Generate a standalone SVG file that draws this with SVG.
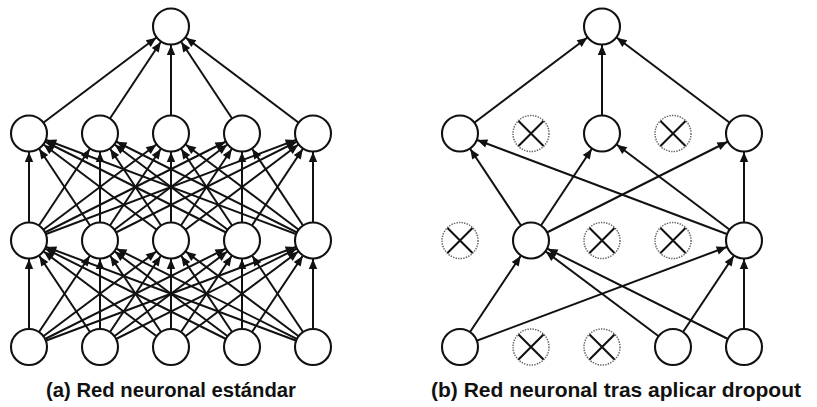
<svg xmlns="http://www.w3.org/2000/svg" width="817" height="407" viewBox="0 0 817 407">
  <style>
    .edge { stroke: #111; stroke-width: 2; fill: none; marker-end: url(#head); }
    .unit { fill: #fff; stroke: #111; stroke-width: 2.1; }
    .dropped circle { fill: #fff; stroke: #666; stroke-width: 1.5; stroke-dasharray: 1.4 1.2; }
    .dropped path { stroke: #111; stroke-width: 2.1; fill: none; }
    .caption { font-family: "Liberation Sans", Arial, sans-serif; font-weight: bold; font-size: 21px; fill: #111; }
  </style>
  <defs>
    <!-- arrow tip sits one radius (18) short of the target centre, on the circle rim -->
    <marker id="head" markerUnits="userSpaceOnUse" refX="0" refY="0" markerWidth="40" markerHeight="40" orient="auto" style="overflow:visible">
      <path d="M -28.5 -4.2 L -18.5 0 L -28.5 4.2 Z" fill="#111"/>
    </marker>
  </defs>

  <!-- (a) standard network: connectors -->
  <g id="connectors-a">
    <line class="edge" x1="29" y1="133.5" x2="171" y2="26.5"/>
    <line class="edge" x1="100" y1="133.5" x2="171" y2="26.5"/>
    <line class="edge" x1="171" y1="133.5" x2="171" y2="26.5"/>
    <line class="edge" x1="242" y1="133.5" x2="171" y2="26.5"/>
    <line class="edge" x1="313" y1="133.5" x2="171" y2="26.5"/>

    <line class="edge" x1="29" y1="240.5" x2="29" y2="133.5"/>
    <line class="edge" x1="100" y1="240.5" x2="29" y2="133.5"/>
    <line class="edge" x1="171" y1="240.5" x2="29" y2="133.5"/>
    <line class="edge" x1="242" y1="240.5" x2="29" y2="133.5"/>
    <line class="edge" x1="313" y1="240.5" x2="29" y2="133.5"/>
    <line class="edge" x1="29" y1="240.5" x2="100" y2="133.5"/>
    <line class="edge" x1="100" y1="240.5" x2="100" y2="133.5"/>
    <line class="edge" x1="171" y1="240.5" x2="100" y2="133.5"/>
    <line class="edge" x1="242" y1="240.5" x2="100" y2="133.5"/>
    <line class="edge" x1="313" y1="240.5" x2="100" y2="133.5"/>
    <line class="edge" x1="29" y1="240.5" x2="171" y2="133.5"/>
    <line class="edge" x1="100" y1="240.5" x2="171" y2="133.5"/>
    <line class="edge" x1="171" y1="240.5" x2="171" y2="133.5"/>
    <line class="edge" x1="242" y1="240.5" x2="171" y2="133.5"/>
    <line class="edge" x1="313" y1="240.5" x2="171" y2="133.5"/>
    <line class="edge" x1="29" y1="240.5" x2="242" y2="133.5"/>
    <line class="edge" x1="100" y1="240.5" x2="242" y2="133.5"/>
    <line class="edge" x1="171" y1="240.5" x2="242" y2="133.5"/>
    <line class="edge" x1="242" y1="240.5" x2="242" y2="133.5"/>
    <line class="edge" x1="313" y1="240.5" x2="242" y2="133.5"/>
    <line class="edge" x1="29" y1="240.5" x2="313" y2="133.5"/>
    <line class="edge" x1="100" y1="240.5" x2="313" y2="133.5"/>
    <line class="edge" x1="171" y1="240.5" x2="313" y2="133.5"/>
    <line class="edge" x1="242" y1="240.5" x2="313" y2="133.5"/>
    <line class="edge" x1="313" y1="240.5" x2="313" y2="133.5"/>

    <line class="edge" x1="29" y1="347" x2="29" y2="240.5"/>
    <line class="edge" x1="100" y1="347" x2="29" y2="240.5"/>
    <line class="edge" x1="171" y1="347" x2="29" y2="240.5"/>
    <line class="edge" x1="242" y1="347" x2="29" y2="240.5"/>
    <line class="edge" x1="313" y1="347" x2="29" y2="240.5"/>
    <line class="edge" x1="29" y1="347" x2="100" y2="240.5"/>
    <line class="edge" x1="100" y1="347" x2="100" y2="240.5"/>
    <line class="edge" x1="171" y1="347" x2="100" y2="240.5"/>
    <line class="edge" x1="242" y1="347" x2="100" y2="240.5"/>
    <line class="edge" x1="313" y1="347" x2="100" y2="240.5"/>
    <line class="edge" x1="29" y1="347" x2="171" y2="240.5"/>
    <line class="edge" x1="100" y1="347" x2="171" y2="240.5"/>
    <line class="edge" x1="171" y1="347" x2="171" y2="240.5"/>
    <line class="edge" x1="242" y1="347" x2="171" y2="240.5"/>
    <line class="edge" x1="313" y1="347" x2="171" y2="240.5"/>
    <line class="edge" x1="29" y1="347" x2="242" y2="240.5"/>
    <line class="edge" x1="100" y1="347" x2="242" y2="240.5"/>
    <line class="edge" x1="171" y1="347" x2="242" y2="240.5"/>
    <line class="edge" x1="242" y1="347" x2="242" y2="240.5"/>
    <line class="edge" x1="313" y1="347" x2="242" y2="240.5"/>
    <line class="edge" x1="29" y1="347" x2="313" y2="240.5"/>
    <line class="edge" x1="100" y1="347" x2="313" y2="240.5"/>
    <line class="edge" x1="171" y1="347" x2="313" y2="240.5"/>
    <line class="edge" x1="242" y1="347" x2="313" y2="240.5"/>
    <line class="edge" x1="313" y1="347" x2="313" y2="240.5"/>
  </g>

  <!-- (b) thinned network: connectors between surviving units -->
  <g id="connectors-b">
    <line class="edge" x1="460" y1="133.5" x2="602" y2="26.5"/>
    <line class="edge" x1="602" y1="133.5" x2="602" y2="26.5"/>
    <line class="edge" x1="744" y1="133.5" x2="602" y2="26.5"/>

    <line class="edge" x1="531" y1="240.5" x2="460" y2="133.5"/>
    <line class="edge" x1="744" y1="240.5" x2="460" y2="133.5"/>
    <line class="edge" x1="531" y1="240.5" x2="602" y2="133.5"/>
    <line class="edge" x1="744" y1="240.5" x2="602" y2="133.5"/>
    <line class="edge" x1="531" y1="240.5" x2="744" y2="133.5"/>
    <line class="edge" x1="744" y1="240.5" x2="744" y2="133.5"/>

    <line class="edge" x1="460" y1="347" x2="531" y2="240.5"/>
    <line class="edge" x1="673" y1="347" x2="531" y2="240.5"/>
    <line class="edge" x1="744" y1="347" x2="531" y2="240.5"/>
    <line class="edge" x1="460" y1="347" x2="744" y2="240.5"/>
    <line class="edge" x1="673" y1="347" x2="744" y2="240.5"/>
    <line class="edge" x1="744" y1="347" x2="744" y2="240.5"/>
  </g>

  <!-- (a) units -->
  <g id="a-out"><circle class="unit" cx="171" cy="26.5" r="18"/></g>
  <g id="a-h2-1"><circle class="unit" cx="29" cy="133.5" r="18"/></g>
  <g id="a-h2-2"><circle class="unit" cx="100" cy="133.5" r="18"/></g>
  <g id="a-h2-3"><circle class="unit" cx="171" cy="133.5" r="18"/></g>
  <g id="a-h2-4"><circle class="unit" cx="242" cy="133.5" r="18"/></g>
  <g id="a-h2-5"><circle class="unit" cx="313" cy="133.5" r="18"/></g>
  <g id="a-h1-1"><circle class="unit" cx="29" cy="240.5" r="18"/></g>
  <g id="a-h1-2"><circle class="unit" cx="100" cy="240.5" r="18"/></g>
  <g id="a-h1-3"><circle class="unit" cx="171" cy="240.5" r="18"/></g>
  <g id="a-h1-4"><circle class="unit" cx="242" cy="240.5" r="18"/></g>
  <g id="a-h1-5"><circle class="unit" cx="313" cy="240.5" r="18"/></g>
  <g id="a-in-1"><circle class="unit" cx="29" cy="347" r="18"/></g>
  <g id="a-in-2"><circle class="unit" cx="100" cy="347" r="18"/></g>
  <g id="a-in-3"><circle class="unit" cx="171" cy="347" r="18"/></g>
  <g id="a-in-4"><circle class="unit" cx="242" cy="347" r="18"/></g>
  <g id="a-in-5"><circle class="unit" cx="313" cy="347" r="18"/></g>

  <!-- (b) units; dropped ones are dotted and crossed -->
  <g id="b-out"><circle class="unit" cx="602" cy="26.5" r="18"/></g>
  <g id="b-h2-1"><circle class="unit" cx="460" cy="133.5" r="18"/></g>
  <g id="b-h2-2" class="dropped"><circle cx="531" cy="133.5" r="18"/><path d="M 518.5 121 L 543.5 146 M 543.5 121 L 518.5 146"/></g>
  <g id="b-h2-3"><circle class="unit" cx="602" cy="133.5" r="18"/></g>
  <g id="b-h2-4" class="dropped"><circle cx="673" cy="133.5" r="18"/><path d="M 660.5 121 L 685.5 146 M 685.5 121 L 660.5 146"/></g>
  <g id="b-h2-5"><circle class="unit" cx="744" cy="133.5" r="18"/></g>
  <g id="b-h1-1" class="dropped"><circle cx="460" cy="240.5" r="18"/><path d="M 447.5 228 L 472.5 253 M 472.5 228 L 447.5 253"/></g>
  <g id="b-h1-2"><circle class="unit" cx="531" cy="240.5" r="18"/></g>
  <g id="b-h1-3" class="dropped"><circle cx="602" cy="240.5" r="18"/><path d="M 589.5 228 L 614.5 253 M 614.5 228 L 589.5 253"/></g>
  <g id="b-h1-4" class="dropped"><circle cx="673" cy="240.5" r="18"/><path d="M 660.5 228 L 685.5 253 M 685.5 228 L 660.5 253"/></g>
  <g id="b-h1-5"><circle class="unit" cx="744" cy="240.5" r="18"/></g>
  <g id="b-in-1"><circle class="unit" cx="460" cy="347" r="18"/></g>
  <g id="b-in-2" class="dropped"><circle cx="531" cy="347" r="18"/><path d="M 518.5 334.5 L 543.5 359.5 M 543.5 334.5 L 518.5 359.5"/></g>
  <g id="b-in-3" class="dropped"><circle cx="602" cy="347" r="18"/><path d="M 589.5 334.5 L 614.5 359.5 M 614.5 334.5 L 589.5 359.5"/></g>
  <g id="b-in-4"><circle class="unit" cx="673" cy="347" r="18"/></g>
  <g id="b-in-5"><circle class="unit" cx="744" cy="347" r="18"/></g>

  <!-- captions -->
  <g id="captions">
    <text class="caption" x="171" y="397" text-anchor="middle" textLength="250" lengthAdjust="spacingAndGlyphs">(a) Red neuronal estándar</text>
    <text class="caption" x="616" y="397" text-anchor="middle" textLength="370" lengthAdjust="spacingAndGlyphs">(b) Red neuronal tras aplicar dropout</text>
  </g>
</svg>
